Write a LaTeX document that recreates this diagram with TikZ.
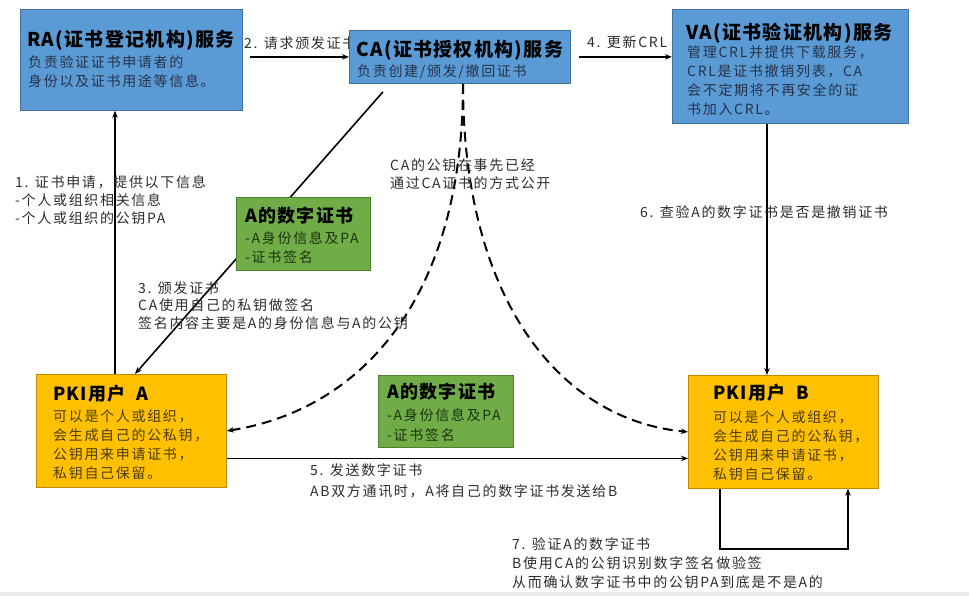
\documentclass[tikz,border=0pt]{standalone}
\usepackage{fontspec}
\setmainfont{Noto Sans CJK SC}
\newfontfamily\tfnt{Noto Sans CJK SC}[LetterSpace=7]
\newfontfamily\bfnt{Noto Sans CJK SC}[LetterSpace=12]
\usetikzlibrary{arrows.meta}
\definecolor{bfill}{HTML}{5B9BD5}
\definecolor{bline}{HTML}{41719C}
\definecolor{gfill}{HTML}{70AD47}
\definecolor{gline}{HTML}{507E32}
\definecolor{yfill}{HTML}{FFC000}
\definecolor{yline}{HTML}{BC8C00}
\definecolor{btxt}{HTML}{26324A}
\definecolor{ytxt}{HTML}{4E3C08}
\definecolor{gtxt}{HTML}{1C3210}
\definecolor{ltxt}{HTML}{2C2C2C}
\begin{document}
\begin{tikzpicture}[x=1pt,y=-1pt,
  box/.style={anchor=north west, inner sep=0pt, line width=0.8pt},
  bluebox/.style={box, draw=bline, fill=bfill},
  greenbox/.style={box, draw=gline, fill=gfill},
  yellowbox/.style={box, draw=yline, fill=yfill},
  ttl/.style={anchor=north west, inner sep=0pt, text=black, font=\tfnt\bfseries\fontsize{#1}{22}\selectfont},
  ttl/.default=19,
  bdy/.style={anchor=north west, inner sep=0pt, align=left, font=\bfnt\fontsize{14}{#1}\selectfont},
  bdy/.default=19,
  lbl/.style={bdy=#1, text=ltxt},
  lbl/.default=18.5,
  arr/.style={line width=1.6pt, -{Stealth[length=7pt,width=5.5pt]}},
  dsh/.style={arr, dash pattern=on 10pt off 6pt, line width=2pt}
]
\useasboundingbox (0,0) rectangle (969,596);
\fill[black!8] (0,592) rectangle (969,596);

% RA
\node[bluebox, minimum width=222pt, minimum height=101pt] (ra) at (20,9) {};
\node[ttl] (rat) at (27,30.5) {RA(证书登记机构)服务};
\node[bdy, text=btxt] (rab) at (28,55) {负责验证证书申请者的\\身份以及证书用途等信息。};

% label 2 (under CA box)
\node[lbl] (l2) at (244,36) {2. 请求颁发证书};

% CA
\node[bluebox, minimum width=221pt, minimum height=53pt] (ca) at (349,30) {};
\node[ttl] (cat) at (356,40.5) {CA(证书授权机构)服务};
\node[bdy, text=btxt] (cab) at (357,64) {负责创建/颁发/撤回证书};

% VA
\node[bluebox, minimum width=236pt, minimum height=114pt] (va) at (672,9) {};
\node[ttl] (vat) at (686,22.5) {VA(证书验证机构)服务};
\node[bdy, text=btxt] (vab) at (687,45) {管理CRL并提供下载服务，\\CRL是证书撤销列表，CA\\会不定期将不再安全的证\\书加入CRL。};

% PKI A
\node[yellowbox, minimum width=190pt, minimum height=113pt] (a) at (36,374) {};
\node[ttl=18] (at) at (53,384.5) {PKI用户\hspace{0.6em}A};
\node[bdy=18.7, text=ytxt] (ab) at (53,410) {可以是个人或组织，\\会生成自己的公私钥，\\公钥用来申请证书，\\私钥自己保留。};

% PKI B
\node[yellowbox, minimum width=190pt, minimum height=113pt] (b) at (688,375) {};
\node[ttl=18] (bt) at (713,383.5) {PKI用户\hspace{0.6em}B};
\node[bdy, text=ytxt] (bb) at (713,411) {可以是个人或组织，\\会生成自己的公私钥，\\公钥用来申请证书，\\私钥自己保留。};

% connectors
\draw[arr] (ra.east |- ca.west) ++(7pt,0) -- (ca.west);
\draw[arr] (ca.east) ++(8pt,0) -- (ca.east -| va.west);
\draw[arr] ([xshift=79pt]a.north west) -- ([xshift=95pt]ra.south west);
\draw[arr] ([xshift=34pt,yshift=-8pt]ca.south west) -- ([xshift=99pt]a.north west);
\coordinate (v6) at ([xshift=95pt]va.south west);
\draw[arr] (v6) -- (v6 |- b.north);
\coordinate (a5) at ([yshift=-27.5pt]a.east);
\draw[arr] (a5) -- (a5 -| b.west);
\coordinate (cd) at ([xshift=114pt]ca.south west);
\draw[dsh] (cd) .. controls (463,300) and (360,410) .. (a.east);
\draw[dsh] (cd) .. controls (463,300) and (560,420) .. (b.west);
\draw[arr] ([xshift=32pt]b.south west) -- ++(0,-60pt) -| ([xshift=160pt]b.south west);

% green certificate boxes
\node[greenbox, minimum width=134pt, minimum height=73pt] (g1) at (236,197) {};
\node[ttl=18] (g1t) at (245,207) {A的数字证书};
\node[bdy, text=gtxt] (g1b) at (245,231) {-A身份信息及PA\\-证书签名};
\node[greenbox, minimum width=135pt, minimum height=72pt] (g2) at (378,375) {};
\node[ttl=18] (g2t) at (387,383) {A的数字证书};
\node[bdy=20, text=gtxt] (g2b) at (387,408) {-A身份信息及PA\\-证书签名};

% labels
\node[lbl] (l4) at (587,35) {4. 更新CRL};
\node[lbl=18] (l1) at (15,175) {1. 证书申请，提供以下信息\\-个人或组织相关信息\\-个人或组织的公钥PA};
\node[lbl=17.5] (l3) at (138,281) {3. 颁发证书\\CA使用自己的私钥做签名\\签名内容主要是A的身份信息与A的公钥};
\node[lbl=18] (lca) at (390,158) {CA的公钥在事先已经\\通过CA证书的方式公开};
\node[lbl] (l6) at (640,205) {6. 查验A的数字证书是否是撤销证书};
\node[lbl=21] (l5) at (310,463) {5. 发送数字证书\\AB双方通讯时，A将自己的数字证书发送给B};
\node[lbl=19] (l7) at (512,537) {7. 验证A的数字证书\\B使用CA的公钥识别数字签名做验签\\从而确认数字证书中的公钥PA到底是不是A的};
\end{tikzpicture}
\end{document}
